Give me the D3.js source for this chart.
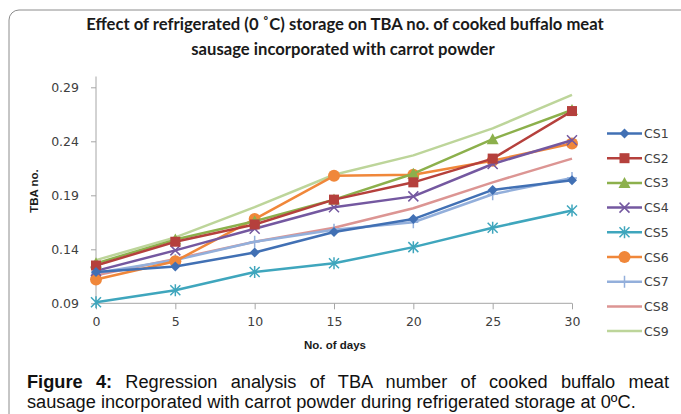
<!DOCTYPE html>
<html>
<head>
<meta charset="utf-8">
<script src="https://cdn.jsdelivr.net/npm/d3@7"></script>
<style>
	body { margin: 0; background: #fff; }
	svg { display: block; }
	.tick text { font-family: 'DejaVu Sans', sans-serif; font-size: 12.5px; fill: #404040; }
	.axis path, .axis line { stroke: #a6a6a6; }
</style>
</head>
<body>
<script>
const days = [0, 5, 10, 15, 20, 25, 30]
const yTicks = [0.09, 0.14, 0.19, 0.24, 0.29]
const seriesNames = ['CS1', 'CS2', 'CS3', 'CS4', 'CS5', 'CS6', 'CS7', 'CS8', 'CS9']
const cs1 = [0.119, 0.124, 0.137, 0.156, 0.168, 0.195, 0.204]
const cs2 = [0.125, 0.147, 0.163, 0.186, 0.202, 0.224, 0.268]
const cs3 = [0.127, 0.149, 0.166, 0.186, 0.210, 0.242, 0.269]
const cs4 = [0.120, 0.139, 0.159, 0.179, 0.189, 0.219, 0.241]
const cs5 = [0.091, 0.102, 0.119, 0.127, 0.142, 0.160, 0.176]
const cs6 = [0.112, 0.129, 0.168, 0.208, 0.209, 0.222, 0.238]
const cs7 = [0.118, 0.130, 0.147, 0.158, 0.165, 0.191, 0.206]
const cs8 = [0.116, 0.131, 0.147, 0.160, 0.178, 0.202, 0.224]
const cs9 = [0.130, 0.151, 0.179, 0.209, 0.227, 0.252, 0.283]
const seriesValues = [cs1, cs2, cs3, cs4, cs5, cs6, cs7, cs8, cs9]
const colors = ['#4170b4', '#b5403c', '#8cb04c', '#7458a0', '#3fa6bd', '#f0873a', '#93afdb', '#dc9593', '#bdd59a']
const markers = ['diamond', 'square', 'triangle', 'x', 'asterisk', 'circle', 'plus', 'none', 'none']

const W = 681, H = 414
const svg = d3.select('body').append('svg').attr('width', W).attr('height', H)

// chart frame
svg.append('rect')
	.attr('x', 9).attr('y', 10).attr('width', 700).attr('height', 450)
	.attr('rx', 10)
	.attr('fill', 'none').attr('stroke', '#8c8c8c').attr('stroke-width', 1)

// fit a text element's font size so it spans a given width
const fitWidth = (sel, width) => {
	const fs = parseFloat(sel.style('font-size'))
	const w = sel.node().getComputedTextLength()
	sel.style('font-size', (fs * width / w) + 'px')
	return fs * width / w
}

const title = svg.append('g')
	.style('font-family', "Lato, 'Liberation Sans', sans-serif")
	.style('font-weight', 'bold').style('font-size', '13px').style('fill', '#1a1a1a')
const t1 = title.append('text').attr('x', 345).attr('y', 30).attr('text-anchor', 'middle')
	.text('Effect of refrigerated (0 ˚C) storage on TBA no. of cooked buffalo meat')
const tfs = fitWidth(t1, 518)
title.append('text').attr('x', 343).attr('y', 55).attr('text-anchor', 'middle')
	.style('font-size', tfs + 'px')
	.text('sausage incorporated with carrot powder')

const x = d3.scaleLinear().domain([0, 30]).range([96, 572])
const y = d3.scaleLinear().domain([0.09, 0.30]).range([303.3, 76.5])

svg.append('g').attr('class', 'axis')
	.attr('transform', `translate(0,${y(0.09)})`)
	.call(d3.axisBottom(x).tickValues(days).tickSize(6).tickSizeOuter(0).tickPadding(8))
	.call(g => g.select('.domain').attr('d', `M${x(0)},0H${x(30)}`))

svg.append('g').attr('class', 'axis')
	.attr('transform', `translate(${x(0)},0)`)
	.call(d3.axisLeft(y).tickValues(yTicks).tickFormat(d3.format('.2f')).tickSize(5).tickSizeOuter(0).tickPadding(12))
	.call(g => g.select('.domain').attr('d', `M0,${y(0.30)}V${y(0.09)}`))

svg.selectAll('.axis .tick line').attr('stroke', '#a6a6a6')

svg.append('text')
	.attr('transform', `translate(38,191) rotate(-90)`)
	.attr('text-anchor', 'middle')
	.style('font-family', "'Liberation Sans', Arial, sans-serif")
	.style('font-weight', 'bold').style('font-size', '11.5px').style('fill', '#1a1a1a')
	.text('TBA no.')

svg.append('text')
	.attr('x', 335).attr('y', 349).attr('text-anchor', 'middle')
	.style('font-family', "'Liberation Sans', Arial, sans-serif")
	.style('font-weight', 'bold').style('font-size', '11.5px').style('fill', '#1a1a1a')
	.text('No. of days')

const drawMarker = (g, type, color) => {
	if (type === 'diamond') g.append('path').attr('d', 'M0,-5L5,0L0,5L-5,0Z').attr('fill', color)
	else if (type === 'square') g.append('rect').attr('x', -5).attr('y', -5).attr('width', 10).attr('height', 10).attr('fill', color)
	else if (type === 'triangle') g.append('path').attr('d', 'M0,-6L6,5L-6,5Z').attr('fill', color)
	else if (type === 'circle') g.append('circle').attr('r', 6).attr('fill', color)
	else if (type === 'x') g.append('path').attr('d', 'M-5,-5L5,5M-5,5L5,-5').attr('stroke', color).attr('stroke-width', 1.5)
	else if (type === 'asterisk') g.append('path').attr('d', 'M-5,-5L5,5M-5,5L5,-5M0,-6V6').attr('stroke', color).attr('stroke-width', 1.5)
	else if (type === 'plus') g.append('path').attr('d', 'M0,-6V6M-5,0H5').attr('stroke', color).attr('stroke-width', 1.5)
}

const line = d3.line().x((d, i) => x(days[i])).y(d => y(d))

// draw in reverse so CS1 ends on top
const order = d3.range(seriesNames.length).reverse()
order.forEach(k => {
	const g = svg.append('g').attr('class', 'series ' + seriesNames[k])
	g.append('path').datum(seriesValues[k])
		.attr('d', line)
		.attr('fill', 'none').attr('stroke', colors[k]).attr('stroke-width', 2.5)
		.attr('stroke-linejoin', 'round')
	g.selectAll('g.mk').data(seriesValues[k]).join('g')
		.attr('class', 'mk')
		.attr('transform', (d, i) => `translate(${x(days[i])},${y(d)})`)
		.each(function () { drawMarker(d3.select(this), markers[k], colors[k]) })
})

// legend
const legend = svg.append('g').attr('transform', 'translate(607,133.5)')
seriesNames.forEach((name, k) => {
	const g = legend.append('g').attr('transform', `translate(0,${k * 24.7})`)
	g.append('line').attr('x1', 0).attr('x2', 35).attr('stroke', colors[k]).attr('stroke-width', 2.5)
	const m = g.append('g').attr('transform', 'translate(17.5,0)')
	drawMarker(m, markers[k], colors[k])
	g.append('text').attr('x', 37).attr('y', 4.5)
		.style('font-family', "'DejaVu Sans', sans-serif").style('font-size', '12.5px').style('fill', '#404040')
		.text(name)
})

// caption: second line sets the size, first line is justified with word spacing
const cap = svg.append('g')
	.style('font-family', "'Liberation Sans', Arial, sans-serif").style('font-size', '15.5px').style('fill', '#111')
const c2 = cap.append('text').attr('x', 27).attr('y', 408)
	.text('sausage incorporated with carrot powder during refrigerated storage at 0ºC.')
const cfs = fitWidth(c2, 609)
const c1 = cap.append('text').attr('x', 27).attr('y', 388).style('font-size', cfs + 'px')
c1.append('tspan').style('font-weight', 'bold').text('Figure 4:')
c1.append('tspan').text(' Regression analysis of TBA number of cooked buffalo meat')
const w1 = c1.node().getComputedTextLength()
const spaces = 'Figure 4: Regression analysis of TBA number of cooked buffalo meat'.split(' ').length - 1
c1.style('word-spacing', ((642 - w1) / spaces) + 'px')
</script>
</body>
</html>
